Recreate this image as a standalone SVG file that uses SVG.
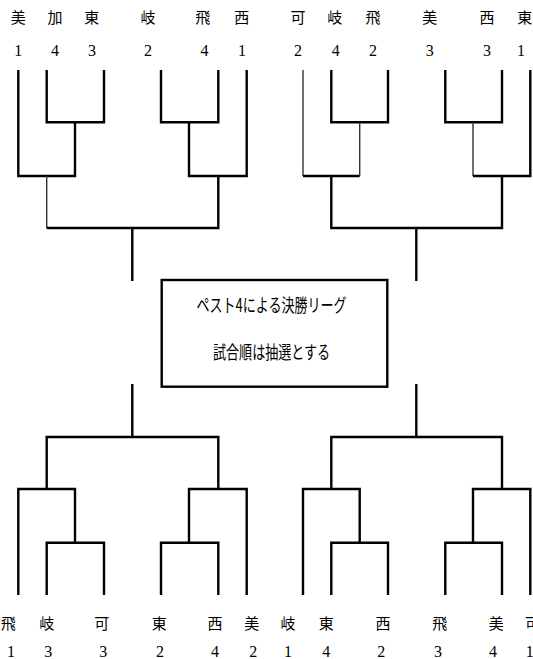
<svg xmlns="http://www.w3.org/2000/svg" width="533" height="659" viewBox="0 0 533 659">
<style>
.c{fill:none;stroke:#000;stroke-width:2.4;stroke-linecap:butt;stroke-linejoin:miter}
.t{fill:none;stroke:#333;stroke-width:1.4}
.k{font-family:"Noto Sans CJK JP","Noto Sans CJK SC",sans-serif;font-size:15px;fill:#000;text-anchor:middle}
.n{font-family:"Liberation Serif",serif;font-size:16px;fill:#000;text-anchor:middle}
.b{font-family:"Noto Sans CJK JP","Noto Sans CJK SC",sans-serif;font-size:18.5px;fill:#000;text-anchor:middle}
</style>
<rect width="533" height="659" fill="#fff"/>
<g id="connectors">
<path class="c" d="M46.7 70V122.3H104V70"/>
<path class="c" d="M161 70V122.3H218.3V70"/>
<path class="c" d="M75 122.3V176H18.3V70"/>
<path class="c" d="M189 122.3V176H246.7V70"/>
<path class="t" d="M46.7 176V228"/>
<path class="c" d="M46.7 228H218.3V176"/>
<path class="c" d="M132.3 228V281"/>
<path class="c" d="M331.3 70V122.3H388V70"/>
<path class="c" d="M445.3 70V122.3H502V70"/>
<path class="t" d="M303 70V176"/>
<path class="c" d="M303 176H359.7"/>
<path class="t" d="M359.7 176V122.3"/>
<path class="t" d="M473 122.3V176"/>
<path class="c" d="M473 176H530.3V70"/>
<path class="c" d="M331.3 176V228H502V176"/>
<path class="c" d="M416.3 228V281"/>
<path class="c" d="M132.3 384V437"/>
<path class="c" d="M46.7 489V437H218.3V489"/>
<path class="c" d="M18.3 595V489H75V542.7"/>
<path class="c" d="M46.7 595V542.7H104V595"/>
<path class="c" d="M189 542.7V489H246.7V595"/>
<path class="c" d="M161 595V542.7H218.3V595"/>
<path class="c" d="M416.3 384V437"/>
<path class="c" d="M331.3 489V437H502V489"/>
<path class="c" d="M303 595V489H359.7V542.7"/>
<path class="c" d="M331.3 595V542.7H388V595"/>
<path class="c" d="M473 542.7V489H530.3V595"/>
<path class="c" d="M445.3 595V542.7H502V595"/>
</g>
<g id="box">
<rect x="161.7" y="280" width="225.6" height="106.7" fill="#fff" stroke="#000" stroke-width="2.4"/>
<text class="b" x="271.5" y="312" textLength="150" lengthAdjust="spacingAndGlyphs">ペスト4による決勝リーグ</text>
<text class="b" x="271.5" y="358.5" textLength="117" lengthAdjust="spacingAndGlyphs">試合順は抽選とする</text>
</g>
<g id="top-labels">
<text class="k" x="18.3" y="23">美</text>
<text class="k" x="55" y="23">加</text>
<text class="k" x="91.7" y="23">東</text>
<text class="k" x="148" y="23">岐</text>
<text class="k" x="202.7" y="23">飛</text>
<text class="k" x="241.7" y="23">西</text>
<text class="k" x="298" y="23">可</text>
<text class="k" x="334.7" y="23">岐</text>
<text class="k" x="373" y="23">飛</text>
<text class="k" x="429.7" y="23">美</text>
<text class="k" x="487" y="23">西</text>
<text class="k" x="524.7" y="23">東</text>
<text class="n" x="18.3" y="55.5">1</text>
<text class="n" x="55" y="55.5">4</text>
<text class="n" x="92" y="55.5">3</text>
<text class="n" x="148" y="55.5">2</text>
<text class="n" x="204.5" y="55.5">4</text>
<text class="n" x="242" y="55.5">1</text>
<text class="n" x="298" y="55.5">2</text>
<text class="n" x="335.7" y="55.5">4</text>
<text class="n" x="373" y="55.5">2</text>
<text class="n" x="429.7" y="55.5">3</text>
<text class="n" x="487" y="55.5">3</text>
<text class="n" x="521" y="55.5">1</text>
</g>
<g id="bottom-labels">
<text class="k" x="8.3" y="629">飛</text>
<text class="k" x="46.7" y="629">岐</text>
<text class="k" x="101.7" y="629">可</text>
<text class="k" x="159.3" y="629">東</text>
<text class="k" x="215" y="629">西</text>
<text class="k" x="251.7" y="629">美</text>
<text class="k" x="288" y="629">岐</text>
<text class="k" x="326.3" y="629">東</text>
<text class="k" x="383" y="629">西</text>
<text class="k" x="439.7" y="629">飛</text>
<text class="k" x="496.3" y="629">美</text>
<text class="k" x="532.5" y="629">可</text>
<text class="n" x="11" y="657">1</text>
<text class="n" x="48.3" y="657">3</text>
<text class="n" x="103.3" y="657">3</text>
<text class="n" x="160" y="657">2</text>
<text class="n" x="215" y="657">4</text>
<text class="n" x="253.3" y="657">2</text>
<text class="n" x="288" y="657">1</text>
<text class="n" x="326.3" y="657">4</text>
<text class="n" x="381.3" y="657">2</text>
<text class="n" x="438" y="657">3</text>
<text class="n" x="493" y="657">4</text>
<text class="n" x="529.7" y="657">1</text>
</g>
</svg>
